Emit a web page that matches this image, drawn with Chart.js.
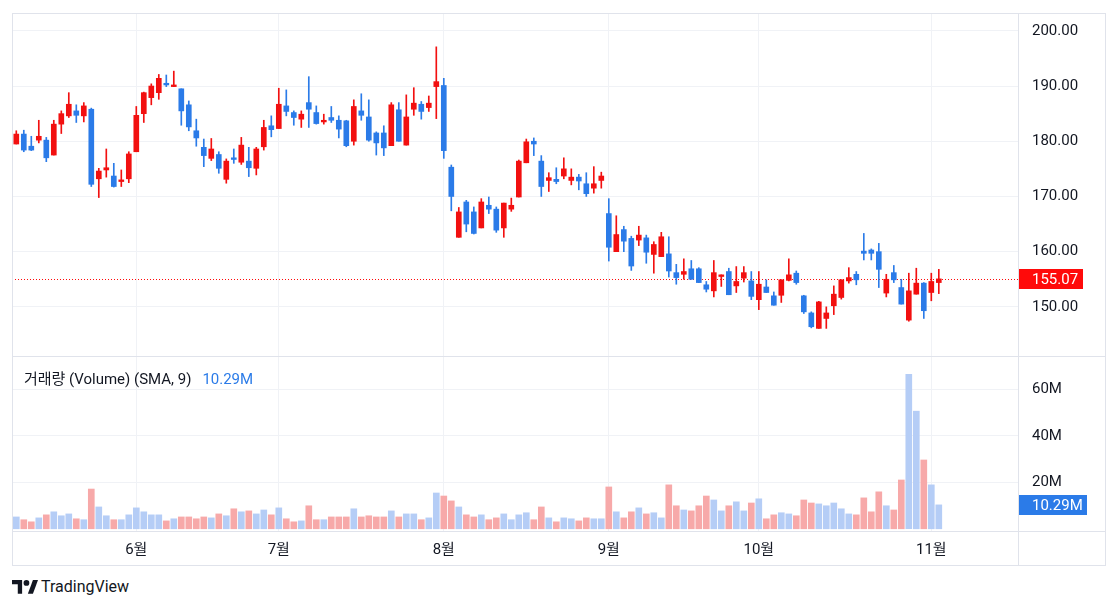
<!DOCTYPE html>
<html lang="ko">
<head>
<meta charset="utf-8">
<title>거래량 차트</title>
<script src="https://cdn.jsdelivr.net/npm/chart.js@4.4.1/dist/chart.umd.min.js"></script>
<style>
  html, body { margin: 0; padding: 0; background: #fff; }
  body { width: 1118px; height: 609px; position: relative; overflow: hidden;
         font-family: Roboto, "Noto Sans CJK KR", sans-serif; color: #131722; }
  .pane { position: absolute; left: 12px; width: 1093px; }
  #pricePane { top: 14px; height: 342px; }
  #volPane { top: 357px; height: 208px; }
  .line { position: absolute; background: #e0e3eb; }
  #legend { position: absolute; left: 24px; top: 367px; font-size: 15px; white-space: nowrap; }
  #legend .val { color: #2b7be8; margin-left: 11px; }
  #brand { position: absolute; left: 12px; top: 577px; font-size: 16px; display: flex; align-items: center; gap: 3px; color: #131722; }
</style>
</head>
<body>
<div class="pane" id="pricePane"><canvas id="priceChart"></canvas></div>
<div class="pane" id="volPane"><canvas id="volChart"></canvas></div>

<!-- frame -->
<div class="line" style="left:12px;top:13px;width:1094px;height:1px"></div>
<div class="line" style="left:12px;top:565px;width:1094px;height:1px"></div>
<div class="line" style="left:12px;top:13px;width:1px;height:553px"></div>
<div class="line" style="left:1105px;top:13px;width:1px;height:553px"></div>
<div class="line" style="left:1018px;top:13px;width:1px;height:553px"></div>
<div class="line" style="left:12px;top:356px;width:1094px;height:1px"></div>
<div class="line" style="left:12px;top:531px;width:1094px;height:1px"></div>

<div id="legend">거래량 (Volume) (SMA, 9)<span class="val">10.29M</span></div>
<div id="brand">
  <svg width="26" height="15" viewBox="0 0 36 20"><path d="M14 20H8V7H0V1h14z" fill="#131722"/><circle cx="20" cy="5" r="4" fill="#131722"/><path d="M22 20l7-19h7l-7 19z" fill="#131722"/></svg>
  <span>TradingView</span>
</div>

<script>
// values
const monthLabels = ['6월', '7월', '8월', '9월', '10월', '11월'];
const monthStart = [16, 35, 57, 79, 99, 122]; // index of the first session of each month

const opens = [
  179.5, 181.3, 179.1, 180.2, 180.2, 177.5, 183.1, 184.6, 185.5, 184.6,
  185.8, 173.2, 174.8, 173.7, 172.7, 173.2, 178.1, 185.0, 187.9, 188.8,
  190.5, 189.9, 189.5, 186.6, 181.9, 178.9, 176.9, 177.6, 173.1, 177.0,
  176.2, 176.4, 175.1, 179.0, 182.8, 182.3, 186.4, 185.2, 184.0, 187.0,
  185.2, 183.5, 184.3, 183.8, 183.7, 180.0, 185.5, 184.4, 181.5, 181.5,
  179.2, 185.7, 179.3, 185.8, 186.7, 186.1, 189.9, 190.1, 175.3, 162.6,
  169.0, 167.2, 164.3, 168.4, 167.7, 164.3, 167.7, 169.9, 176.1, 180.0,
  176.4, 172.9, 173.1, 173.7, 172.9, 173.5, 172.3, 171.5, 172.9, 166.9,
  160.0, 164.0, 162.4, 162.1, 162.5, 159.5, 159.1, 159.6, 156.2, 155.9,
  156.9, 156.9, 154.0, 152.9, 155.5, 156.4, 153.8, 155.2, 154.7, 151.3,
  153.6, 152.0, 152.1, 154.8, 156.1, 152.0, 148.9, 146.1, 147.9, 150.2,
  151.7, 154.7, 155.9, 160.1, 160.3, 160.0, 152.5, 156.2, 153.5, 147.6,
  152.3, 154.3, 152.6, 154.4
];
const highs = [
  181.9, 182.0, 180.9, 183.8, 180.7, 183.8, 185.5, 188.8, 186.6, 187.0,
  186.0, 175.1, 178.6, 176.0, 174.8, 178.1, 186.3, 188.9, 190.4, 192.1,
  192.0, 192.7, 189.5, 187.3, 184.0, 180.4, 180.5, 178.1, 176.8, 178.6,
  180.7, 178.9, 178.9, 183.8, 184.6, 189.6, 189.3, 185.5, 185.5, 191.7,
  186.4, 184.9, 186.3, 184.6, 183.8, 187.5, 188.6, 187.5, 181.7, 182.8,
  187.0, 187.0, 188.4, 189.7, 187.2, 188.2, 197.1, 191.4, 175.7, 168.0,
  169.3, 168.1, 169.6, 169.9, 168.1, 168.8, 169.7, 176.6, 180.4, 180.6,
  177.4, 174.3, 175.2, 177.0, 175.0, 174.0, 174.3, 175.4, 174.4, 169.6,
  166.5, 164.6, 162.8, 164.6, 163.0, 161.8, 163.5, 162.7, 157.7, 158.7,
  158.4, 157.1, 154.6, 158.4, 155.8, 157.0, 157.3, 157.3, 156.4, 156.4,
  154.9, 152.7, 154.9, 158.7, 156.5, 152.1, 149.1, 151.0, 150.0, 153.8,
  154.9, 157.1, 156.4, 163.3, 160.5, 161.5, 155.9, 157.5, 155.0, 156.1,
  157.0, 154.4, 156.1, 156.8
];
const lows = [
  179.5, 178.1, 178.3, 179.7, 176.3, 177.5, 181.4, 184.3, 183.4, 183.5,
  171.8, 169.8, 173.5, 171.7, 171.8, 172.5, 178.1, 183.4, 186.6, 187.6,
  189.9, 189.9, 182.9, 181.9, 179.1, 175.4, 176.5, 174.2, 172.4, 176.0,
  175.8, 173.6, 173.9, 178.4, 180.8, 182.3, 184.6, 182.9, 182.5, 182.5,
  183.1, 183.1, 183.4, 180.6, 179.0, 179.3, 183.8, 180.0, 177.5, 177.4,
  179.2, 180.0, 179.3, 184.7, 184.0, 185.4, 184.1, 176.9, 167.4, 162.6,
  163.6, 163.2, 164.3, 166.9, 163.5, 162.6, 167.3, 169.9, 176.1, 177.4,
  170.0, 170.9, 172.3, 173.2, 172.1, 171.2, 170.0, 170.6, 171.5, 158.3,
  160.0, 160.0, 156.6, 161.1, 157.9, 156.1, 159.1, 155.4, 154.1, 155.0,
  155.0, 154.4, 152.7, 151.8, 153.7, 152.2, 152.6, 154.5, 151.3, 149.5,
  152.6, 150.3, 150.8, 154.7, 154.1, 148.8, 146.2, 146.1, 146.1, 148.6,
  151.4, 154.3, 154.0, 158.5, 158.5, 153.5, 151.8, 154.4, 150.5, 147.4,
  152.3, 147.9, 151.1, 152.4
];
const closes = [
  181.3, 178.4, 178.4, 180.9, 177.0, 183.1, 185.0, 186.7, 184.7, 186.4,
  172.2, 174.6, 175.2, 171.8, 173.0, 177.7, 184.7, 188.8, 190.0, 191.4,
  190.2, 190.2, 185.5, 182.6, 180.6, 177.4, 178.6, 175.1, 176.4, 176.7,
  179.3, 175.2, 178.6, 182.5, 182.1, 186.7, 185.4, 184.3, 184.9, 185.8,
  183.2, 183.8, 183.8, 182.2, 179.2, 186.3, 184.7, 180.2, 179.7, 178.8,
  186.6, 180.0, 184.4, 186.9, 185.4, 186.9, 190.8, 178.3, 170.0, 167.2,
  165.0, 163.3, 169.0, 167.7, 163.9, 168.8, 168.4, 176.4, 179.9, 179.5,
  171.8, 173.4, 172.7, 175.0, 173.5, 172.8, 170.5, 172.3, 173.7, 160.8,
  163.1, 161.9, 157.4, 163.0, 159.9, 161.3, 162.7, 156.5, 155.3, 156.4,
  155.0, 154.4, 153.2, 156.2, 155.8, 152.2, 154.6, 156.2, 151.9, 154.1,
  152.6, 150.3, 154.9, 155.8, 154.4, 149.1, 146.4, 150.9, 148.9, 152.3,
  154.9, 155.3, 154.9, 159.7, 159.7, 156.8, 155.0, 154.9, 150.5, 152.9,
  154.3, 149.3, 154.6, 155.07
];
// volume, millions of shares
const volumes = [
  5.1, 3.9, 3.0, 4.7, 6.0, 7.3, 5.6, 6.4, 4.3, 3.9,
  17.1, 9.4, 5.6, 3.9, 3.9, 6.0, 9.0, 7.3, 6.0, 6.0,
  3.4, 4.3, 5.1, 5.1, 4.3, 5.1, 4.7, 6.4, 5.6, 8.6,
  7.3, 7.7, 6.4, 8.1, 6.0, 9.0, 4.3, 3.0, 3.4, 9.9,
  3.9, 3.9, 5.1, 5.1, 5.1, 8.6, 5.1, 5.6, 5.1, 5.1,
  7.7, 5.1, 6.4, 6.4, 3.9, 4.7, 15.4, 14.1, 12.0, 9.4,
  6.0, 5.1, 6.0, 3.9, 4.7, 6.4, 3.9, 6.0, 6.9, 3.9,
  9.4, 4.7, 3.0, 4.7, 4.3, 3.4, 4.7, 4.3, 4.3, 18.0,
  7.3, 4.7, 7.3, 9.0, 6.4, 6.9, 4.7, 18.9, 9.9, 8.1,
  7.7, 9.9, 14.1, 12.4, 7.7, 9.9, 11.6, 7.7, 11.1, 12.9,
  4.3, 6.0, 6.9, 6.4, 5.6, 12.4, 11.1, 10.7, 9.9, 11.1,
  8.6, 6.4, 6.0, 13.3, 7.3, 15.9, 9.9, 8.1, 21.0, 66.4,
  50.6, 29.6, 18.9, 10.29
];
const priceTicks = [150, 160, 170, 180, 190, 200];
const volumeTicks = [20, 40, 60];

// styling
const UP = '#f21010';
const DOWN = '#2b7be8';
const VOL_RED = '#f7a9a9';
const VOL_BLUE = '#b5cdf6';
const GRID = '#f0f2f6';
const TEXT = '#131722';
const AXIS_W = 87;
const X_MIN = -0.573;
const X_MAX = 133.56;

Chart.defaults.font.family = "Roboto, 'Noto Sans CJK KR', sans-serif";
Chart.defaults.font.size = 15;
Chart.defaults.color = TEXT;

const idx = closes.map((c, i) => i);
const isUp = idx.map(i => closes[i] >= opens[i]);
const candleColors = isUp.map(u => u ? UP : DOWN);
const volColors = isUp.map(u => u ? VOL_BLUE : VOL_RED);
const lastClose = closes[closes.length - 1];
const lastVol = volumes[volumes.length - 1];

function xAxis(showLabels) {
    return {
        type: 'linear',
        min: X_MIN,
        max: X_MAX,
        offset: false,
        afterBuildTicks: s => { s.ticks = monthStart.map(v => ({ value: v })); },
        afterFit: s => { s.height = showLabels ? 34 : 0; s.paddingLeft = 0; s.paddingRight = 0; },
        grid: { color: GRID, drawTicks: false, offset: false },
        border: { display: false },
        ticks: {
            display: showLabels, autoSkip: false, maxRotation: 0, padding: 10,
            callback: v => monthLabels[monthStart.indexOf(v)]
        }
    };
}

function yAxis(min, max, ticks, fmt) {
    return {
        position: 'right',
        min: min,
        max: max,
        afterBuildTicks: s => { s.ticks = ticks.map(v => ({ value: v })); },
        afterFit: s => { s.width = AXIS_W; s.paddingTop = 0; s.paddingBottom = 0; },
        grid: { color: GRID, drawTicks: false },
        border: { display: false },
        ticks: { padding: 14, crossAlign: 'near', callback: fmt }
    };
}

// axis tag with the last value, plus the dotted price line on the price pane
function lastValueTag(id, value, text, color, boxW, dotted) {
    return {
        id: id,
        beforeDatasetsDraw(chart) {
            if (!dotted) return;
            const { ctx, chartArea } = chart;
            const y = Math.round(chart.scales.y.getPixelForValue(value)) + 0.5;
            ctx.save();
            ctx.strokeStyle = color;
            ctx.lineWidth = 1;
            ctx.setLineDash([1, 2]);
            ctx.beginPath();
            ctx.moveTo(chartArea.left, y);
            ctx.lineTo(chartArea.right, y);
            ctx.stroke();
            ctx.restore();
        },
        afterDraw(chart) {
            const { ctx, chartArea } = chart;
            const y = Math.round(chart.scales.y.getPixelForValue(value));
            ctx.save();
            ctx.fillStyle = color;
            ctx.fillRect(chartArea.right, y - 10, boxW, 20);
            ctx.fillStyle = '#fff';
            ctx.font = "15px Roboto, sans-serif";
            ctx.textBaseline = 'middle';
            ctx.fillText(text, chartArea.right + 14, y + 1);
            ctx.restore();
        }
    };
}

new Chart(document.getElementById('priceChart'), {
    type: 'bar',
    data: {
        datasets: [{
            label: 'wick',
            data: idx.map(i => ({ x: i, y: [lows[i], highs[i]] })),
            backgroundColor: candleColors,
            barThickness: 1,
            grouped: false,
            minBarLength: 1
        }, {
            label: 'body',
            data: idx.map(i => ({ x: i, y: [opens[i], closes[i]] })),
            backgroundColor: candleColors,
            barThickness: 5,
            grouped: false,
            minBarLength: 1
        }]
    },
    options: {
        responsive: true,
        maintainAspectRatio: false,
        animation: false,
        events: [],
        plugins: { legend: { display: false }, tooltip: { enabled: false } },
        scales: {
            x: xAxis(false),
            y: yAxis(141.1, 203.05, priceTicks, v => v.toFixed(2))
        }
    },
    plugins: [lastValueTag('priceTag', lastClose, lastClose.toFixed(2), '#ff0a0a', 65, true)]
});

new Chart(document.getElementById('volChart'), {
    type: 'bar',
    data: {
        datasets: [{
            label: '거래량',
            data: idx.map(i => ({ x: i, y: volumes[i] })),
            backgroundColor: volColors,
            barThickness: 6
        }]
    },
    options: {
        responsive: true,
        maintainAspectRatio: false,
        animation: false,
        events: [],
        plugins: { legend: { display: false }, tooltip: { enabled: false } },
        scales: {
            x: xAxis(true),
            y: yAxis(-0.95, 73.9, volumeTicks, v => v + 'M')
        }
    },
    plugins: [lastValueTag('volTag', lastVol, lastVol.toFixed(2) + 'M', '#2b7be8', 69, false)]
});
</script>
</body>
</html>
